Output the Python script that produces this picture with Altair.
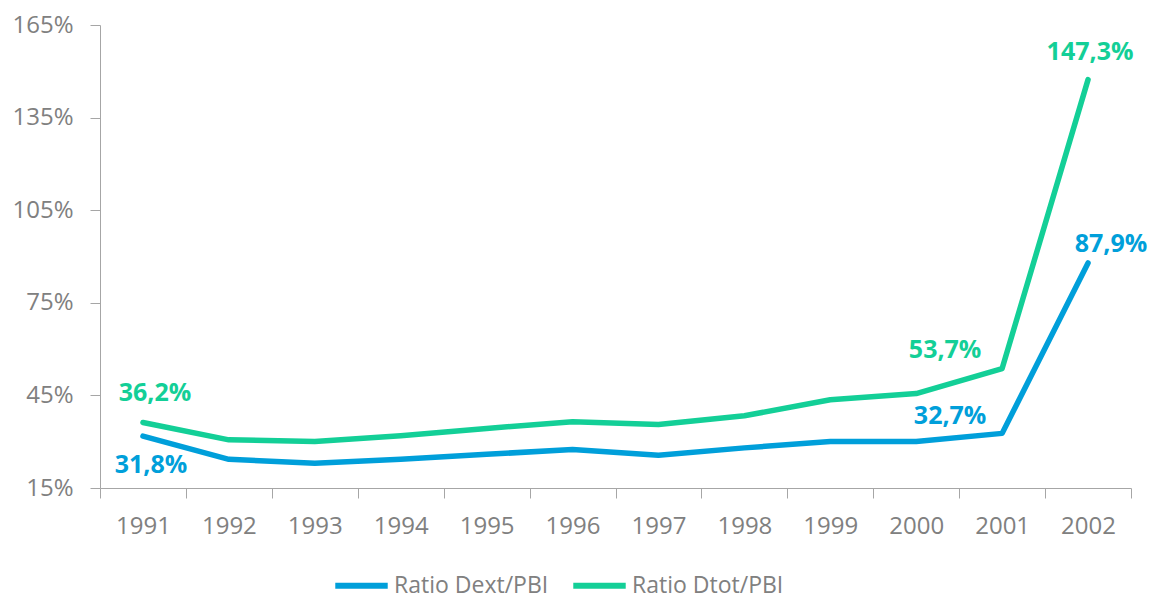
import altair as alt
import pandas as pd

years = ["1991", "1992", "1993", "1994", "1995", "1996", "1997", "1998", "1999", "2000", "2001", "2002"]
dext = [31.8, 24.3, 23.0, 24.3, 25.9, 27.5, 25.6, 28.0, 30.1, 30.1, 32.7, 87.9]
dtot = [36.2, 30.6, 30.1, 31.9, 34.3, 36.5, 35.6, 38.4, 43.6, 45.6, 53.7, 147.3]
series_names = ["Ratio Dext/PBI", "Ratio Dtot/PBI"]
colors = ["#009FDA", "#13CF97"]
y_ticks = [15, 45, 75, 105, 135, 165]

rows = []
for y, a, b in zip(years, dext, dtot):
    rows.append({"year": y, "value": a, "series": series_names[0]})
    rows.append({"year": y, "value": b, "series": series_names[1]})
df = pd.DataFrame(rows)

FONT = "Open Sans"
GREY = "#808080"

x_enc = alt.X(
    "year:O",
    sort=years,
    bandPosition=0.5,
    scale=alt.Scale(type="band", paddingInner=0, paddingOuter=0),
    axis=alt.Axis(
        title=None,
        tickBand="extent",
        tickSize=10,
        labelPadding=16,
        labelFontSize=24,
        labelColor=GREY,
        labelFont=FONT,
        domainColor="#A6A6A6",
        tickColor="#A6A6A6",
        grid=False,
        labelAngle=0,
    ),
)
y_enc = alt.Y(
    "value:Q",
    scale=alt.Scale(domain=[15, 165], nice=False, zero=False),
    axis=alt.Axis(
        title=None,
        values=y_ticks,
        labelExpr="datum.value + '%'",
        tickSize=10,
        labelPadding=17,
        labelFontSize=24,
        labelColor=GREY,
        labelFont=FONT,
        domainColor="#A6A6A6",
        tickColor="#A6A6A6",
        grid=False,
    ),
)
color_enc = alt.Color(
    "series:N",
    sort=series_names,
    scale=alt.Scale(domain=series_names, range=colors),
    legend=alt.Legend(
        title=None,
        orient="none",
        direction="horizontal",
        legendX=232,
        legendY=531,
        symbolType="stroke",
        symbolSize=2750,
        symbolStrokeWidth=6,
        labelFontSize=23,
        labelFont=FONT,
        labelColor=GREY,
        labelOffset=3,
        columnPadding=12,
        padding=0,
    ),
)

lines = alt.Chart(df).mark_line(strokeWidth=5.5, strokeCap="round", strokeJoin="round").encode(
    x=x_enc, y=y_enc, color=color_enc
)

label_expr = "replace(format(datum.value, '.1f'), '.', ',') + '%'"

def label(series, year, dx, dy):
    sub = df[(df.series == series) & (df.year == year)]
    col = colors[series_names.index(series)]
    return (
        alt.Chart(sub)
        .transform_calculate(txt=label_expr)
        .mark_text(fontSize=25, fontWeight="bold", font=FONT, color=col, dx=dx, dy=dy)
        .encode(x=alt.X("year:O", sort=years, bandPosition=0.5), y="value:Q", text="txt:N")
    )

labels = [
    label(series_names[1], "1991", 12, -30),
    label(series_names[0], "1991", 8, 29),
    label(series_names[1], "2001", -57, -19),
    label(series_names[0], "2001", -52, -17),
    label(series_names[1], "2002", 2, -28),
    label(series_names[0], "2002", 23, -19),
]

chart = alt.layer(lines, *labels).properties(
    width=1031,
    height=463,
    autosize=alt.AutoSizeParams(type="none"),
    padding={"left": 92, "top": 17, "right": 18, "bottom": 112},
).configure_view(stroke=None)

chart.save("out.html", embed_options={"renderer": "svg", "actions": False})
